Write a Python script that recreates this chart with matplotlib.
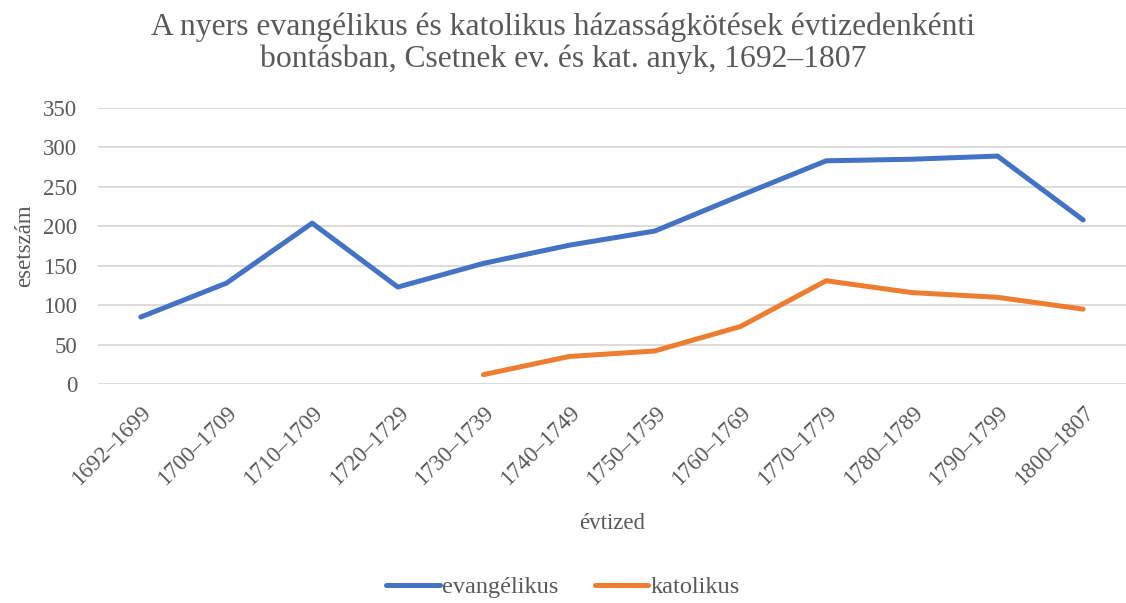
import numpy as np
import matplotlib.pyplot as plt

plt.rcParams['font.family'] = ['Liberation Serif', 'DejaVu Serif']

decades = ['1692–1699', '1700–1709', '1710–1709', '1720–1729', '1730–1739', '1740–1749',
           '1750–1759', '1760–1769', '1770–1779', '1780–1789', '1790–1799', '1800–1807']
evangelikus = [85, 128, 204, 123, 153, 176, 194, 239, 283, 285, 289, 208]
katolikus = [np.nan, np.nan, np.nan, np.nan, 12, 35, 42, 73, 131, 116, 110, 95]

txt = '#595959'

fig = plt.figure(figsize=(11.26, 6.03), dpi=100)
ax = fig.add_axes([0.087, 0.363, 0.913, 0.458])

x = np.arange(len(decades))
ax.plot(x, evangelikus, color='#4472C4', lw=3.6, solid_capstyle='round',
        solid_joinstyle='round', label='evangélikus')
ax.plot(x, katolikus, color='#ED7D31', lw=3.6, solid_capstyle='round',
        solid_joinstyle='round', label='katolikus')

ax.set_xlim(-0.5, len(decades) - 0.5)
ax.set_ylim(0, 350)
ax.set_yticks(range(0, 351, 50))
ax.set_xticks(x)
ax.set_xticklabels(decades, rotation=45, ha='right', rotation_mode='anchor')
ax.tick_params(axis='both', length=0, labelsize=16.5, labelcolor=txt)
ax.tick_params(axis='x', pad=13)
ax.tick_params(axis='y', pad=15)
ax.grid(axis='y', color='#D9D9D9', lw=1.3)
ax.set_axisbelow(True)
for s in ax.spines.values():
    s.set_visible(False)

ax.set_ylabel('esetszám', fontsize=16.5, color=txt, labelpad=6)
ax.set_xlabel('évtized', fontsize=16.5, color=txt, labelpad=17)

fig.suptitle('A nyers evangélikus és katolikus házasságkötések évtizedenkénti\n'
             'bontásban, Csetnek ev. és kat. anyk, 1692–1807',
             fontsize=22.8, color=txt, y=0.98, linespacing=1.15)

fig.legend(loc='lower center', bbox_to_anchor=(0.5, -0.028), ncol=2, frameon=False,
           fontsize=17.5, labelcolor=txt, handlelength=2.2, columnspacing=1.5, handletextpad=0.1)

fig.savefig('out.png', dpi=100)
